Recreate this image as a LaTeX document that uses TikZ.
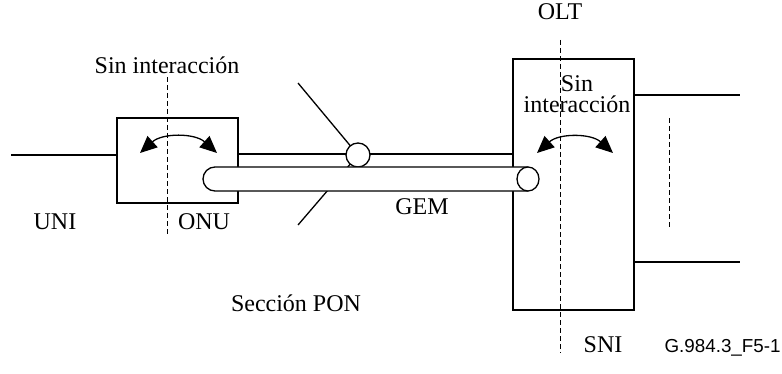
\documentclass[tikz,border=0pt]{standalone}
\usepackage{fontspec}
\setmainfont{Liberation Serif}
\usetikzlibrary{arrows.meta,shapes}
\tikzstyle{box}=[draw,line width=1.1pt,minimum width=60.5pt,inner sep=0pt]
\tikzstyle{wire}=[line width=0.65pt]
\tikzstyle{cut}=[line width=0.5pt,dash pattern=on 2.5pt off 1.5pt]
\tikzstyle{turn}=[line width=0.65pt,{Triangle[length=8.5pt,width=7.5pt]}-{Triangle[length=8.5pt,width=7.5pt]}]
\tikzstyle{txt}=[font=\fontsize{12}{10.5}\selectfont,inner sep=0pt,anchor=base]
\tikzstyle{hole}=[circle,draw,fill=white,line width=0.65pt,inner sep=0pt]

\begin{document}
\begin{tikzpicture}[x=0.5pt,y=-0.5pt]
    \useasboundingbox (0,0) rectangle (782,374);
    \node[box,minimum height=42.5pt] (onu) at (177.5,160.5) {};
    \node[box,minimum height=125.5pt] (olt) at (573.5,184.5) {};
    % cut lines
    \draw[cut] (167,77) -- (167,237);
    \draw[cut] (560,40) -- (560,353);
    \draw[cut] (669,118) -- (669,227);
    % wires
    \coordinate (uni) at (11,155);
    \coordinate (sniA) at (740,95);
    \coordinate (sniB) at (740,262);
    \draw[wire] (uni) -- (uni -| onu.west);
    \draw[wire] (sniA -| olt.east) -- (sniA);
    \draw[wire] (sniB -| olt.east) -- (sniB);
    \draw[wire] (onu.east |- 0,154) -- (olt.west |- 0,154);
    \coordinate (splitc) at (358,155);
    \coordinate (dropA) at (298,83);
    \coordinate (dropB) at (298,225);
    \draw[wire] (dropA) -- (splitc);
    \draw[wire] (dropB) -- (splitc);
    \node[hole,minimum size=12pt] (split) at (splitc) {};
    % GEM tube
    \filldraw[wire,fill=white] (528,167) -- (215,167) arc[start angle=270,end angle=90,radius=12] -- (528,191);
    \node[hole,minimum width=11pt,minimum height=12pt,ellipse] (gemend) at (528,179) {};
    % no interaction arrows
    \foreach \a/\b in {140/217, 537/613}
        \draw[turn] (\a,153) to[bend left=42] (\b,153);
    % texts
    \foreach \pos/\name in {{(167,74)/Sin interacción}, {(55,229)/UNI}, {(204,229)/ONU}, {(560,20)/OLT}, {(603,352)/SNI}, {(422,214)/GEM}, {(296,311)/Sección PON}}
        \node[txt] at \pos {\name};
    \node[txt,align=center] (oltsin) at (577,113) {Sin\\interacción};
    \node[font=\fontsize{9.4}{11}\fontspec{Liberation Sans},anchor=base east,inner sep=0pt] (figid) at (781,352) {G.984.3\_F5-1};
\end{tikzpicture}
\end{document}
